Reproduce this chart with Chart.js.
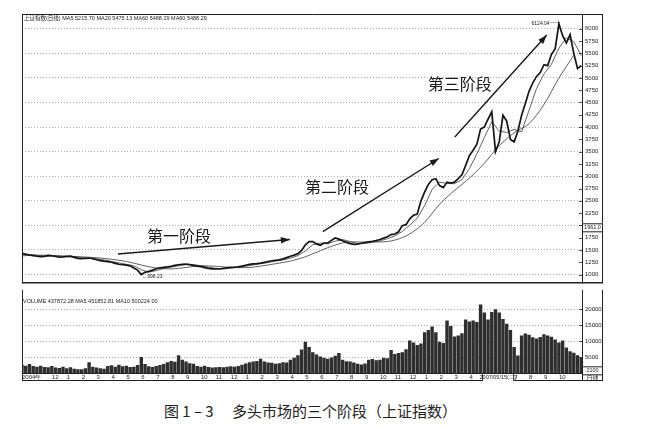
<!DOCTYPE html>
<html>
<head>
<meta charset="utf-8">
<script src="https://cdn.jsdelivr.net/npm/chart.js@4.4.1/dist/chart.umd.min.js"></script>
<style>
    body { margin: 0; background: #fff; width: 648px; height: 427px; position: relative; overflow: hidden; }
    canvas { position: absolute; left: 0; }
    #price { top: 0; }
    #vol { top: 290px; }
    #caption {
        position: absolute; left: 0; width: 621px; top: 400px; text-align: center;
        font: 15px "Noto Sans CJK SC", sans-serif; color: #222; white-space: pre;
    }
</style>
</head>
<body>
<canvas id="price" width="648" height="290"></canvas>
<canvas id="vol" width="648" height="91"></canvas>
<div id="caption">图 1 – 3　 多头市场的三个阶段（上证指数）</div>

<script>
/* ===============================
   Data
   x unit = month from Oct 2004; closes are weekly (4 per month)
================================ */
const monthLabels = ['2004年', '', '12', '1', '2', '3', '4', '5', '6', '7', '8', '9', '10', '11', '12',
    '1', '2', '3', '4', '5', '6', '7', '8', '9', '10', '11', '12',
    '1', '2', '3', '4', '5', '6', '7', '8', '9', '10', '11'];

const priceTicks = [1000, 1250, 1500, 1750, 2000, 2250, 2500, 2750, 3000, 3250, 3500,
    3750, 4000, 4250, 4500, 4750, 5000, 5250, 5500, 5750, 6000];
const volTicks = [5000, 10000, 15000, 20000];

const closes = [1430, 1410, 1398, 1385, 1372, 1364, 1370, 1388, 1383, 1368,
    1352, 1360, 1370, 1374, 1350, 1328, 1322, 1331, 1336, 1322,
    1302, 1283, 1272, 1263, 1250, 1228, 1210, 1200, 1192, 1177,
    1135, 1090, 1000, 1045, 1065, 1090, 1118, 1139, 1147, 1156,
    1168, 1185, 1200, 1210, 1212, 1201, 1186, 1173, 1160, 1141,
    1125, 1117, 1115, 1113, 1125, 1137, 1146, 1150, 1157, 1170,
    1189, 1208, 1217, 1224, 1233, 1248, 1266, 1281, 1291, 1299,
    1318, 1345, 1373, 1396, 1425, 1490, 1605, 1672, 1670, 1624,
    1597, 1640, 1643, 1695, 1743, 1720, 1686, 1654, 1628, 1615,
    1619, 1637, 1652, 1666, 1677, 1692, 1714, 1740, 1768, 1813,
    1824, 1870, 1995, 2015, 2135, 2205, 2230, 2495, 2680, 2835,
    2930, 2950, 2810, 2770, 2880, 2860, 2880, 2950, 3030, 3220,
    3420, 3530, 3653, 3960, 4000, 4160, 4310, 3500, 3700, 4240,
    4120, 3750, 3700, 3916, 4240, 4480, 4730, 4900, 5030, 5110,
    5270, 5250, 5480, 5590, 6100, 5860, 5710, 5880, 5500, 5190,
    5250];

// MA20, one value every half month
const ma20 = [1420, 1410, 1391, 1373, 1376, 1373, 1363, 1364, 1344, 1329,
    1323, 1295, 1267, 1238, 1208, 1176, 1100, 1050, 1080, 1124,
    1153, 1177, 1202, 1202, 1180, 1150, 1125, 1118, 1130, 1148,
    1167, 1196, 1221, 1243, 1272, 1297, 1334, 1385, 1479, 1609,
    1641, 1626, 1680, 1711, 1672, 1629, 1631, 1658, 1687, 1729,
    1786, 1876, 2004, 2146, 2403, 2735, 2881, 2853, 2848, 2930,
    3155, 3456, 3786, 4108, 3918, 3890, 3953, 3902, 4342, 4785,
    5078, 5278, 5605, 5815, 5738, 5455];

// MA60, one value per month
const ma60 = [1380, 1395, 1390, 1375, 1361, 1343, 1311, 1266, 1195, 1132,
    1114, 1144, 1178, 1169, 1145, 1140, 1172, 1220, 1275, 1361,
    1485, 1600, 1664, 1661, 1663, 1701, 1826, 2064, 2429, 2710,
    2961, 3263, 3619, 3885, 4070, 4457, 4996, 5461];

// weekly volume (axis units)
const volume = [2600, 2300, 2800, 2200, 2000, 2300, 1900, 1800, 2200, 1700,
    1600, 2000, 1500, 1800, 1300, 1200, 1200, 1500, 3400, 2000,
    1700, 1500, 1300, 2200, 2400, 2000, 2600, 2100, 2300, 1900,
    2000, 2500, 5000, 2800, 2100, 1900, 2200, 2500, 2800, 3400,
    3800, 3500, 5600, 4200, 3600, 3100, 2900, 2200, 2000, 2300,
    1900, 1700, 1800, 1900, 1800, 2000, 2100, 2000, 2200, 2600,
    3000, 3400, 3600, 3800, 4500, 3600, 3300, 3200, 2900, 3100,
    3400, 3300, 4200, 4800, 5600, 7400, 9800, 8200, 6500, 5800,
    5200, 4800, 4500, 4900, 5400, 6300, 4200, 3700, 3600, 3300,
    2900, 2700, 3000, 4200, 4400, 4000, 4200, 4800, 4600, 7200,
    6000, 6300, 6500, 7500, 10200, 9600, 8800, 9300, 12800, 13500,
    14600, 12800, 9800, 9400, 16500, 14800, 11500, 11800, 12500, 16800,
    16200, 16500, 16000, 21500, 19000, 16800, 19200, 20000, 19000, 17000,
    15500, 13500, 8200, 5500, 11800, 12400, 12000, 11200, 10800, 11300,
    12200, 11800, 11400, 10500, 9600, 10200, 8000, 6800, 6400, 5600,
    4800];

const priceHeader = '上证指数(日线) MA5 5215.70 MA20 5475.13 MA60 5488.29 MA60 5488.29';
const volHeader = 'VOLUME 437872.28 MA5 451852.81 MA10 500224.00';

// annotations in data units (month, index value)
const stages = [
    { text: '第一阶段', x: 8.38, y: 1794 },
    { text: '第二阶段', x: 18.97, y: 2786 },
    { text: '第三阶段', x: 27.2, y: 4869 }
];
const arrows = [
    [6.43, 1417, 17.96, 1714],
    [20.17, 1873, 27.95, 3361],
    [29.02, 3797, 35.19, 5871]
];
const lowPoint = { x: 8.0, y: 998.23 };
const highPoint = { x: 36.05, y: 6124.04 };
const priceCursor = 1961.0;
const volCursor = 2100;
const dateCursor = { text: '2007/05/15(二)', from: 30.85, to: 33.0 };

Chart.defaults.font.family = '"Liberation Sans", Arial, sans-serif';
const INK = '#222';
const AXIS_W = 21;

/* ===============================
   Helpers
================================ */
function line(ctx, x1, y1, x2, y2) {
    ctx.beginPath();
    ctx.moveTo(x1, y1);
    ctx.lineTo(x2, y2);
    ctx.stroke();
}

function arrow(ctx, x1, y1, x2, y2) {
    line(ctx, x1, y1, x2, y2);
    const a = Math.atan2(y2 - y1, x2 - x1), L = 9, W = 3.2;
    ctx.beginPath();
    ctx.moveTo(x2, y2);
    ctx.lineTo(x2 - L * Math.cos(a) + W * Math.sin(a), y2 - L * Math.sin(a) - W * Math.cos(a));
    ctx.lineTo(x2 - L * Math.cos(a) - W * Math.sin(a), y2 - L * Math.sin(a) + W * Math.cos(a));
    ctx.closePath();
    ctx.fill();
}

function valueBox(ctx, x1, x2, yc, text) {
    ctx.fillStyle = '#fff';
    ctx.fillRect(x1, yc - 4, x2 - x1, 8);
    ctx.strokeRect(x1 + 0.5, yc - 4 + 0.5, x2 - x1 - 1, 8);
    ctx.fillStyle = INK;
    ctx.font = '5.5px "Liberation Sans"';
    ctx.textAlign = 'center';
    ctx.textBaseline = 'middle';
    ctx.fillText(text, (x1 + x2) / 2, yc + 0.5);
}

/* ===============================
   Price panel decorations
================================ */
const priceDecor = {
    id: 'priceDecor',
    afterDraw(chart) {
        const { ctx, chartArea: a, scales: { x, y } } = chart;
        const outer = a.right + AXIS_W;
        ctx.save();
        ctx.strokeStyle = INK;
        ctx.fillStyle = INK;

        // frame
        ctx.lineWidth = 1;
        line(ctx, a.left, a.top + 0.5, outer, a.top + 0.5);
        line(ctx, a.left + 0.5, a.top, a.left + 0.5, a.bottom);
        line(ctx, a.right + 0.5, a.top, a.right + 0.5, a.bottom);
        line(ctx, outer - 0.5, a.top, outer - 0.5, a.bottom);
        ctx.lineWidth = 1.5;
        line(ctx, a.left, a.bottom - 0.75, outer, a.bottom - 0.75);

        // small tick marks on the axis
        ctx.lineWidth = 0.8;
        priceTicks.forEach(v => {
            const py = Math.round(y.getPixelForValue(v)) + 0.5;
            line(ctx, a.right - 3, py, a.right, py);
        });

        // header
        ctx.font = '5.5px "Liberation Sans", "Noto Sans CJK SC"';
        ctx.textAlign = 'left';
        ctx.textBaseline = 'middle';
        ctx.fillText(priceHeader, a.left + 2, a.top + 4.5);

        // stage labels and arrows
        ctx.font = '16px "Noto Sans CJK SC"';
        ctx.fillStyle = '#1a1a1a';
        stages.forEach(s => ctx.fillText(s.text, x.getPixelForValue(s.x), y.getPixelForValue(s.y)));
        ctx.lineWidth = 1.4;
        ctx.strokeStyle = '#1a1a1a';
        arrows.forEach(([x1, y1, x2, y2]) => arrow(ctx,
            x.getPixelForValue(x1), y.getPixelForValue(y1),
            x.getPixelForValue(x2), y.getPixelForValue(y2)));

        // low and high marks
        ctx.font = '5px "Liberation Sans"';
        ctx.fillStyle = INK;
        const lx = x.getPixelForValue(lowPoint.x), ly = y.getPixelForValue(lowPoint.y);
        ctx.fillText('\u2190' + lowPoint.y.toFixed(2), lx + 1, ly + 2);
        const hx = x.getPixelForValue(highPoint.x), hy = y.getPixelForValue(highPoint.y);
        ctx.lineWidth = 0.7;
        ctx.strokeStyle = INK;
        ctx.setLineDash([1, 1]);
        line(ctx, hx - 9, hy, hx, hy);
        ctx.setLineDash([]);
        ctx.textAlign = 'right';
        ctx.fillText(highPoint.y.toFixed(2), hx - 10, hy + 1);

        // cursor value box on the axis
        ctx.lineWidth = 1;
        valueBox(ctx, a.right, outer, y.getPixelForValue(priceCursor), priceCursor.toFixed(1));
        ctx.restore();
    }
};

/* ===============================
   Volume panel decorations
================================ */
const volDecor = {
    id: 'volDecor',
    afterDraw(chart) {
        const { ctx, chartArea: a, scales: { x, y } } = chart;
        const outer = a.right + AXIS_W;
        const h = chart.height;
        ctx.save();
        ctx.strokeStyle = INK;
        ctx.fillStyle = INK;
        ctx.lineWidth = 1;
        line(ctx, a.left + 0.5, 0, a.left + 0.5, h);
        line(ctx, a.right + 0.5, 0, a.right + 0.5, h);
        line(ctx, outer - 0.5, 0, outer - 0.5, h);
        line(ctx, a.left, a.bottom + 0.5, outer, a.bottom + 0.5);
        line(ctx, a.left, h - 0.5, outer, h - 0.5);

        ctx.lineWidth = 0.8;
        volTicks.forEach(v => {
            const py = Math.round(y.getPixelForValue(v)) + 0.5;
            line(ctx, a.right - 3, py, a.right, py);
        });

        // header
        ctx.font = '5.5px "Liberation Sans"';
        ctx.textAlign = 'left';
        ctx.textBaseline = 'middle';
        ctx.fillText(volHeader, a.left + 1, a.top + 4.5);

        // cursor boxes
        ctx.lineWidth = 1;
        valueBox(ctx, a.right, outer, y.getPixelForValue(volCursor) + 4, String(volCursor));
        valueBox(ctx, x.getPixelForValue(dateCursor.from), x.getPixelForValue(dateCursor.to),
            (a.bottom + h) / 2, dateCursor.text);
        ctx.font = '6px "Noto Sans CJK SC"';
        ctx.textAlign = 'center';
        ctx.fillText('日线', (a.right + outer) / 2, (a.bottom + h) / 2 + 0.5);
        ctx.restore();
    }
};

const axisFont = { size: 6, family: '"Liberation Sans"' };
const dotted = { display: false, dash: [1, 2] };
const plainNumber = v => String(v);

/* ===============================
   Price chart
================================ */
new Chart(document.getElementById('price'), {
    type: 'line',
    data: {
        datasets: [
            { data: closes.map((v, i) => ({ x: i / 4, y: v })), borderColor: '#141414', borderWidth: 1.7, pointRadius: 0 },
            { data: ma20.map((v, j) => ({ x: j / 2, y: v })), borderColor: '#3a3a3a', borderWidth: 0.8, pointRadius: 0 },
            { data: ma60.map((v, m) => ({ x: m, y: v })), borderColor: '#3a3a3a', borderWidth: 0.8, pointRadius: 0, cubicInterpolationMode: 'monotone' }
        ]
    },
    options: {
        responsive: false,
        animation: false,
        events: [],
        layout: { padding: { left: 22, right: 45, top: 14, bottom: 0 } },
        plugins: { legend: { display: false }, tooltip: { enabled: false } },
        scales: {
            x: { type: 'linear', min: 0, max: 37.55, display: false },
            y: {
                position: 'right', min: 820, max: 6300,
                afterFit: s => { s.width = AXIS_W; },
                afterBuildTicks: s => { s.ticks = priceTicks.map(v => ({ value: v })); },
                ticks: { autoSkip: false, padding: 3, font: axisFont, color: INK, callback: plainNumber },
                grid: {
                    drawTicks: false, lineWidth: 0.8,
                    color: c => (c.tick && c.tick.value % 500 === 0) ? '#9a9a9a' : 'transparent'
                },
                border: dotted
            }
        }
    },
    plugins: [priceDecor]
});

/* ===============================
   Volume chart
================================ */
new Chart(document.getElementById('vol'), {
    type: 'bar',
    data: {
        datasets: [{
            data: volume.map((v, i) => ({ x: i / 4, y: v })),
            backgroundColor: '#2e2e2e', barPercentage: 1, categoryPercentage: 0.92
        }]
    },
    options: {
        responsive: false,
        animation: false,
        events: [],
        layout: { padding: { left: 22, right: 45, top: 0, bottom: 0 } },
        plugins: { legend: { display: false }, tooltip: { enabled: false } },
        scales: {
            x: {
                type: 'linear', min: 0, max: 37.55, offset: false,
                afterFit: s => { s.height = 8; },
                grid: { display: false, drawTicks: false },
                border: { display: false },
                ticks: {
                    stepSize: 1, maxTicksLimit: 100, autoSkip: false, maxRotation: 0,
                    align: 'start', padding: 1, font: axisFont, color: INK,
                    callback: v => Number.isInteger(v) ? (monthLabels[v] || '') : ''
                }
            },
            y: {
                position: 'right', min: 0, max: 24000,
                afterFit: s => { s.width = AXIS_W; },
                afterBuildTicks: s => { s.ticks = volTicks.map(v => ({ value: v })); },
                ticks: { autoSkip: false, padding: 3, font: axisFont, color: INK, callback: plainNumber },
                grid: { drawTicks: false, lineWidth: 0.8, color: '#9a9a9a' },
                border: dotted
            }
        }
    },
    plugins: [volDecor]
});
</script>
</body>
</html>
